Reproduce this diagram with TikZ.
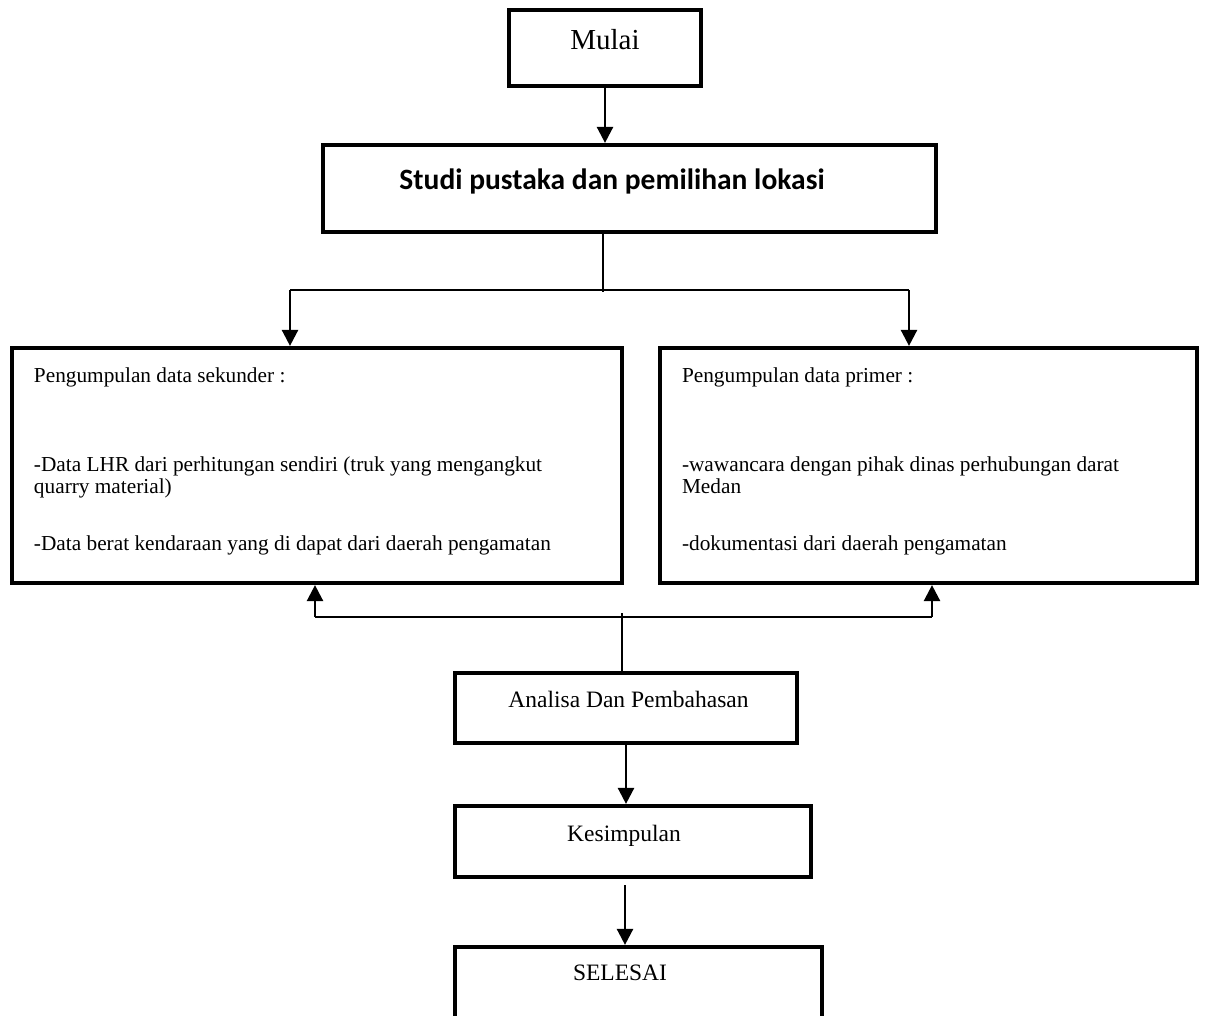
\documentclass[tikz,border=0pt]{standalone}
\usepackage{fontspec}
\setmainfont{Liberation Serif}
\newfontfamily\calibri{Carlito}
\usetikzlibrary{arrows.meta}
\tikzset{
  box/.style={draw, line width=4.2pt, inner sep=0pt, fill=none},
  txt/.style={inner sep=0pt, outer sep=0pt},
  bigtxt/.style={txt, font=\fontsize{29}{32}\selectfont},
  boxtxt/.style={txt, font=\fontsize{23.5}{26}\selectfont},
  datatxt/.style={txt, font=\fontsize{21.3}{24}\selectfont, anchor=base west},
  conn/.style={line width=2pt},
  thinconn/.style={line width=1.4pt},
  arr/.style={line width=2.5pt, -{Triangle[length=16pt,width=16pt]}}
}
\begin{document}
\begin{tikzpicture}[x=1pt,y=-1pt]
\useasboundingbox (0,0) rectangle (1205,1015);
\clip (0,0) rectangle (1205,1015);
\fill[white] (0,0) rectangle (1205,1015);

% boxes
\node[box, minimum width=192pt, minimum height=76pt] (mulai) at (605,48) {};
\node[box, minimum width=613pt, minimum height=87pt] (studi) at (629.5,188.5) {};
\node[box, minimum width=610pt, minimum height=235pt] (left) at (317,465.5) {};
\node[box, minimum width=537pt, minimum height=235pt] (right) at (928.5,465.5) {};
\node[box, minimum width=342pt, minimum height=70pt] (analisa) at (626,708) {};
\node[box, minimum width=356pt, minimum height=71pt] (kes) at (633,841.5) {};
\node[box, minimum width=367pt, minimum height=80pt] (selesai) at (638.5,987) {};

% texts
\node[bigtxt, anchor=base] (tmulai) at (605,49) {Mulai};
\node[txt, anchor=base, font=\calibri\bfseries\fontsize{29.5}{32}\selectfont] (tstudi) at (612,189) {Studi pustaka dan pemilihan lokasi};

\node[datatxt] (l1) at (34,382) {Pengumpulan data sekunder :};
\node[datatxt] (l2) at (34,471) {-Data LHR dari perhitungan sendiri (truk yang mengangkut};
\node[datatxt] (l3) at (34,493) {quarry material)};
\node[datatxt] (l4) at (34,550) {-Data berat kendaraan yang di dapat dari daerah pengamatan};

\node[datatxt] (r1) at (682,382) {Pengumpulan data primer :};
\node[datatxt] (r2) at (682,471) {-wawancara dengan pihak dinas perhubungan darat};
\node[datatxt] (r3) at (682,493) {Medan};
\node[datatxt] (r4) at (682,550) {-dokumentasi dari daerah pengamatan};

\node[boxtxt, anchor=base] (tanalisa) at (628.5,707) {Analisa Dan Pembahasan};
\node[boxtxt, anchor=base] (tkes) at (624,841) {Kesimpulan};
\node[boxtxt, anchor=base] (tselesai) at (620,980) {SELESAI};

% junction coordinates
\coordinate (sp) at (603,292);
\coordinate (sl) at (290,290);
\coordinate (sr) at (909,290);
\coordinate (jl) at (315,617);
\coordinate (jr) at (932,617);
\coordinate (jm) at (622,613);
\coordinate (k1) at (625,885);

% connectors
\draw[arr] (mulai.south) -- (mulai.south |- studi.north);
\draw[thinconn] (studi.south -| sp) -- (sp);
\draw[conn] (sl) -- (sr);
\draw[arr] (sl) -- (sl |- left.north);
\draw[arr] (sr) -- (sr |- right.north);

\draw[conn] (jl) -- (jr);
\draw[arr] (jl) -- (jl |- left.south);
\draw[arr] (jr) -- (jr |- right.south);
\draw[thinconn] (jm) -- (jm |- analisa.north);

\draw[arr] (analisa.south) -- (analisa.south |- kes.north);
\draw[arr] (k1) -- (k1 |- selesai.north);
\end{tikzpicture}
\end{document}
